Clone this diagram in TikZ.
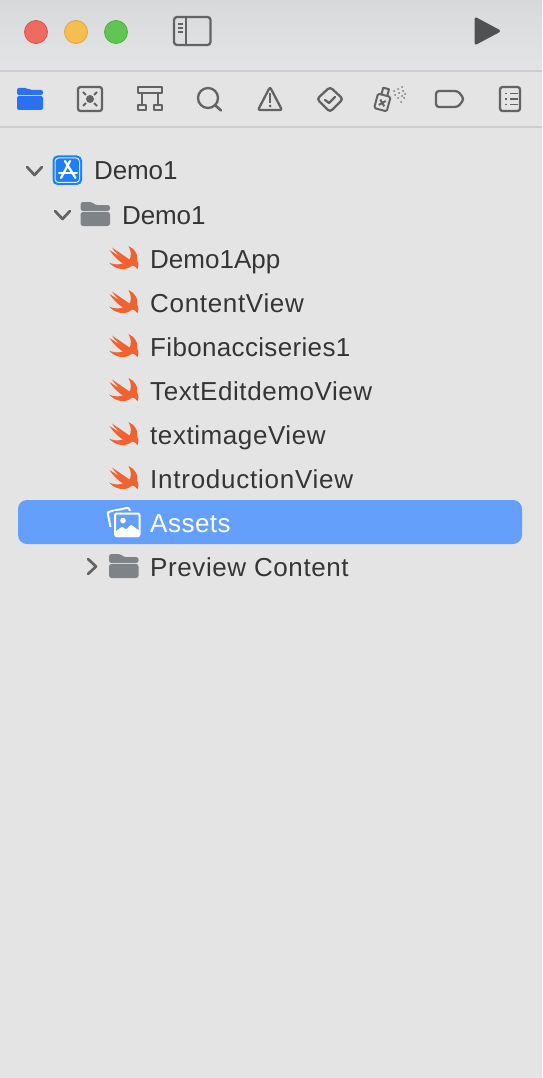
\documentclass[tikz,border=0pt]{standalone}
\usepackage{fontspec}
\setmainfont{Liberation Sans}
\definecolor{sidebg}{HTML}{E4E4E5}
\definecolor{titletop}{HTML}{D8D9DB}
\definecolor{titlebot}{HTML}{E3E4E5}
\definecolor{sep}{HTML}{CDCDCF}
\definecolor{icongrey}{HTML}{636364}
\definecolor{txt}{HTML}{353535}
\definecolor{foldergrey}{HTML}{7E8387}
\definecolor{swiftc}{HTML}{F0622F}
\definecolor{selblue}{HTML}{64A0FB}
\definecolor{appblue}{HTML}{1E7FF5}
\definecolor{navblue}{HTML}{2B70EE}
\definecolor{redfill}{HTML}{EF6A5F}
\definecolor{redline}{HTML}{D9544A}
\definecolor{yelfill}{HTML}{F5BE4F}
\definecolor{yelline}{HTML}{DDA33C}
\definecolor{grnfill}{HTML}{61C554}
\definecolor{grnline}{HTML}{52AE46}
\definecolor{runcol}{HTML}{505152}
\newcommand{\rowfont}[1]{\fontsize{26}{30}\selectfont\addfontfeature{LetterSpace=#1}}
\tikzset{
  x=1pt,y=-1pt,
  rowtext/.style={anchor=base west,inner sep=0pt,text=txt,font=\rowfont{#1}},
  rowtext/.default=0,
  toolicon/.style={draw=icongrey,line width=2.3pt,line join=round,line cap=round},
  chev/.style={draw=icongrey,line width=2.7pt,line cap=round,line join=round},
  traffic/.style={circle,inner sep=0pt,minimum size=23pt,line width=0.8pt},
}
\newcommand{\swiftlogo}[2]{%
  \fill[swiftc,shift={(#1,#2)}] (-15,3.5) .. controls (-9,10.5) and (2,12.5) .. (8,6.5)
    .. controls (10,6.5) and (12,8) .. (13.5,10) .. controls (15,6) and (14.5,3) .. (13,1)
    .. controls (14.5,-5) and (10.5,-10) .. (4.5,-13) .. controls (7.5,-7) and (7.5,-3) .. (5.5,0.5)
    .. controls (0.5,-3) and (-7,-8) .. (-12,-11.5) .. controls (-9,-7) and (-6,-4) .. (-3,-1.5)
    .. controls (-7,-4) and (-11,-7) .. (-14.5,-9) .. controls (-11,-3.5) and (-6,1.5) .. (-1,4.5)
    .. controls (-6,6) and (-11,5.5) .. (-15,3.5) -- cycle;}
\newcommand{\folderglyph}[3]{%
  \begin{scope}[shift={(#1,#2)}]
  \fill[#3,rounded corners=2.5pt] (-14.5,-3) -- (-14.5,-12) -- (-3,-12) -- (0,-9) -- (15,-9) -- (15,-3) -- cycle;
  \fill[#3,rounded corners=2.5pt] (-14.5,-2) rectangle (15,12);
  \end{scope}}
\begin{document}
\begin{tikzpicture}
\useasboundingbox (0,0) rectangle (542,1078);
\fill[sidebg] (0,0) rectangle (542,1078);
\shade[top color=titletop,bottom color=titlebot] (0,0) rectangle (542,70);
\fill[sep] (0,70) rectangle (542,72);
\fill[sep] (0,126) rectangle (542,128);

% traffic lights
\node[traffic,fill=redfill,draw=redline] (closebtn) at (36,32) {};
\node[traffic,fill=yelfill,draw=yelline] (minbtn) at (76,32) {};
\node[traffic,fill=grnfill,draw=grnline] (zoombtn) at (116,32) {};

% sidebar toggle
\draw[toolicon,rounded corners=3pt] (174,17) rectangle (210.5,45);
\draw[toolicon] (186,17) -- (186,45);
\draw[icongrey,line width=1.6pt] (178,24) -- (183,24) (178,28) -- (183,28) (178,32) -- (183,32);

% run
\filldraw[runcol,line width=3pt,line join=round] (476,19) -- (498.5,31) -- (476,43) -- cycle;

% navigator tabs
\fill[navblue,rounded corners=2pt] (17,95) -- (17,88) -- (27,88) -- (30,90) -- (43,90) -- (43,95) -- cycle;
\fill[navblue,rounded corners=2pt] (17,96) rectangle (43,110);

\draw[toolicon,rounded corners=2.5pt] (78,87) rectangle (102,111);
\fill[icongrey] (90,99) circle (4pt);
\draw[icongrey,line width=1.8pt] (83,92) -- (86,95) (97,92) -- (94,95) (83,106) -- (86,103) (97,106) -- (94,103);

\draw[toolicon] (138,87) rectangle (162,93);
\draw[toolicon] (142,93) -- (142,105);
\draw[toolicon] (158,93) -- (158,105);
\draw[toolicon] (138,105) rectangle (146,110);
\draw[toolicon] (154,105) rectangle (162,110);

\draw[toolicon] (208,98) circle (10pt);
\draw[toolicon,line width=2.6pt] (215.5,105.5) -- (221,110.5);

\draw[toolicon,rounded corners=2pt] (270,87) -- (282,110) -- (258,110) -- cycle;
\fill[icongrey] (268.8,93.5) rectangle (271.2,103);
\fill[icongrey] (270,106) circle (1.5pt);

\draw[toolicon,rounded corners=3pt] (330,87) -- (343,99) -- (330,112) -- (317,99) -- cycle;
\draw[toolicon] (325,100) -- (329,103) -- (335,97);

% spray bottle
\begin{scope}[shift={(382.5,102)},rotate=-15]
\draw[toolicon,line width=2pt,rounded corners=1.5pt] (-6.5,-7) rectangle (6.5,8);
\draw[toolicon,line width=2pt] (-3,-7) -- (-3,-14) -- (3,-14) -- (3,-7);
\draw[icongrey,line width=2pt] (-2.8,-1.8) -- (2.8,3.8) (2.8,-1.8) -- (-2.8,3.8);
\end{scope}
\foreach \sx/\sy in {394/91,398/89,402/87,395/95,399/93,403/91,398/98,402/96,401/102,405/94,404/98}
  \fill[icongrey!85] (\sx,\sy) circle (1pt);

% tag
\draw[toolicon,rounded corners=3pt] (436,91) -- (458,91) -- (464,99) -- (458,107) -- (436,107) -- cycle;

% report
\draw[toolicon,rounded corners=2.5pt] (500,87) rectangle (520,111);
\foreach \ly in {93.5,99,104.5}{
  \draw[icongrey,line width=1.7pt] (505,\ly) -- (507,\ly) (510,\ly) -- (517.5,\ly);
}

% tree: project row
\draw[chev] (27,167) -- (34.5,175) -- (42,167);
\fill[appblue,rounded corners=5pt] (52.5,155.5) rectangle (82,185);
\draw[white!85!appblue,line width=1pt,rounded corners=3.5pt] (55,158) rectangle (79.5,182.5);
\draw[white,line width=2.2pt,line cap=round] (70,161) -- (61,178) (65,161) -- (75.5,178);
\draw[white,line width=2pt,line cap=round] (59,172.7) -- (77,172.7);
\node[rowtext=-0.5] (projrow) at (94,180) {Demo1};

% tree: group row
\draw[chev] (55,211) -- (62.5,219) -- (70,211);
\folderglyph{95}{214}{foldergrey}
\node[rowtext=-0.5] (grouprow) at (122,224) {Demo1};

% swift rows
\swiftlogo{124}{259}
\node[rowtext=0] (r1) at (150,268) {Demo1App};
\swiftlogo{124}{303}
\node[rowtext=2.6] (r2) at (150,312) {ContentView};
\swiftlogo{124}{347}
\node[rowtext=1.3] (r3) at (150,356) {Fibonacciseries1};
\swiftlogo{124}{391}
\node[rowtext=2.2] (r4) at (150,400) {TextEditdemoView};
\swiftlogo{124}{435}
\node[rowtext=2.2] (r5) at (150,444) {textimageView};
\swiftlogo{124}{479}
\node[rowtext=2.9] (r6) at (150,488) {IntroductionView};

% selected row
\fill[selblue,rounded corners=9pt] (18,500) rectangle (522,544);
\draw[white,line width=2pt,rounded corners=2pt] (110.5,527) -- (107.5,512) -- (129,507.5) -- (130,512);
\fill[selblue,rounded corners=2pt] (112.5,511) rectangle (141,538);
\draw[white,line width=2pt,rounded corners=2pt] (115,513.5) rectangle (139.5,536);
\fill[white] (123,520.5) circle (2.8pt);
\fill[white,rounded corners=1pt] (115,537) -- (115,532) -- (122,526.5) -- (126,529.5) -- (131,524.5) -- (139.5,531) -- (139.5,537) -- cycle;
\node[rowtext=1.9,text=white] (assets) at (150,532) {Assets};

% preview content row
\draw[chev] (88,559) -- (96,566.5) -- (88,574);
\folderglyph{123.5}{566}{foldergrey}
\node[rowtext=2.3] (preview) at (150,576) {Preview Content};
\end{tikzpicture}
\end{document}
